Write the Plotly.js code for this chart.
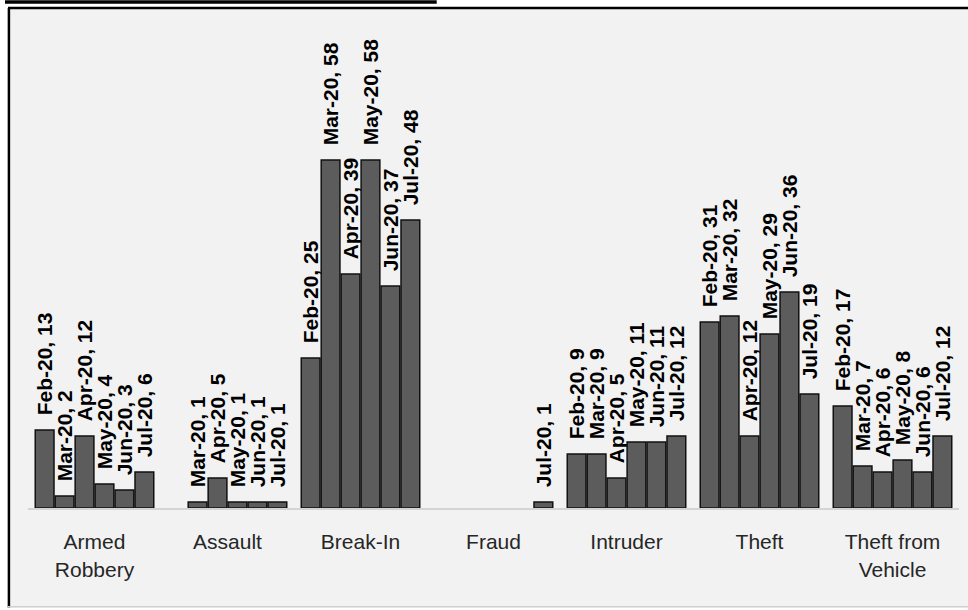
<!DOCTYPE html>
<html>
<head>
<meta charset="utf-8">
<script src="https://cdn.plot.ly/plotly-3.0.1.min.js"></script>
<style>html,body{margin:0;padding:0;background:#fff;}#chart{width:968px;height:610px;}</style>
</head>
<body>
<div id="chart"></div>
<script>
var categories = ["Armed<br>Robbery", "Assault", "Break-In", "Fraud", "Intruder", "Theft", "Theft from<br>Vehicle"];
var months = ["Feb-20", "Mar-20", "Apr-20", "May-20", "Jun-20", "Jul-20"];
var feb20 = [13, null, 25, null, 9, 31, 17];
var mar20 = [2, 1, 58, null, 9, 32, 7];
var apr20 = [12, 5, 39, null, 5, 12, 6];
var may20 = [4, 1, 58, null, 11, 29, 8];
var jun20 = [3, 1, 37, null, 11, 36, 6];
var jul20 = [6, 1, 48, 1, 12, 19, 12];
var series = [feb20, mar20, apr20, may20, jun20, jul20];

var traces = series.map(function (vals, i) {
  return {
    type: "bar",
    name: months[i],
    x: categories,
    y: vals,
    text: vals.map(function (v) { return v === null ? "" : "\u00a0\u00a0" + months[i] + ", " + v; }),
    textposition: "outside",
    textangle: -90,
    constraintext: "none",
    cliponaxis: false,
    textfont: {family: "Liberation Sans", size: 21, color: "#000000", weight: "bold"},
    marker: {color: "#5c5c5c", line: {color: "#111111", width: 1.5}},
    hoverinfo: "none"
  };
});

var layout = {
  width: 968,
  height: 610,
  margin: {l: 28, r: 9, t: 10, b: 102},
  paper_bgcolor: "#ffffff",
  plot_bgcolor: "#f2f2f2",
  barmode: "group",
  bargap: 0.1,
  bargroupgap: 0.06,
  showlegend: false,
  xaxis: {
    type: "category",
    showline: true,
    linecolor: "#d4d4d4",
    linewidth: 2,
    ticks: "",
    ticklabelstandoff: 14,
    showgrid: false,
    zeroline: false,
    tickfont: {family: "Liberation Sans", size: 21, color: "#262626"}
  },
  yaxis: {
    range: [0, 83],
    visible: false,
    showgrid: false,
    zeroline: false
  },
  shapes: [
    {type: "rect", xref: "paper", yref: "paper", x0: -0.0215, x1: 1.03, y0: -0.2, y1: 1.004,
     fillcolor: "#f2f2f2", line: {width: 0}, layer: "below"},
    {type: "line", xref: "paper", yref: "paper", x0: -0.0205, x1: -0.0205, y0: -0.2, y1: 1.004,
     line: {color: "#000000", width: 2.5}},
    {type: "line", xref: "paper", yref: "paper", x0: -0.0215, x1: 1.03, y0: 1.004, y1: 1.004,
     line: {color: "#000000", width: 2.5}},
    {type: "line", xref: "paper", yref: "paper", x0: -0.0215, x1: 1.03, y0: -0.1985, y1: -0.1985,
     line: {color: "#d0d0d0", width: 1.5}},
    {type: "line", xref: "paper", yref: "paper", x0: -0.0247, x1: 0.439, y0: 1.016, y1: 1.016,
     line: {color: "#000000", width: 3.5}}
  ]
};

Plotly.newPlot("chart", traces, layout, {displayModeBar: false, staticPlot: true});
</script>
</body>
</html>
